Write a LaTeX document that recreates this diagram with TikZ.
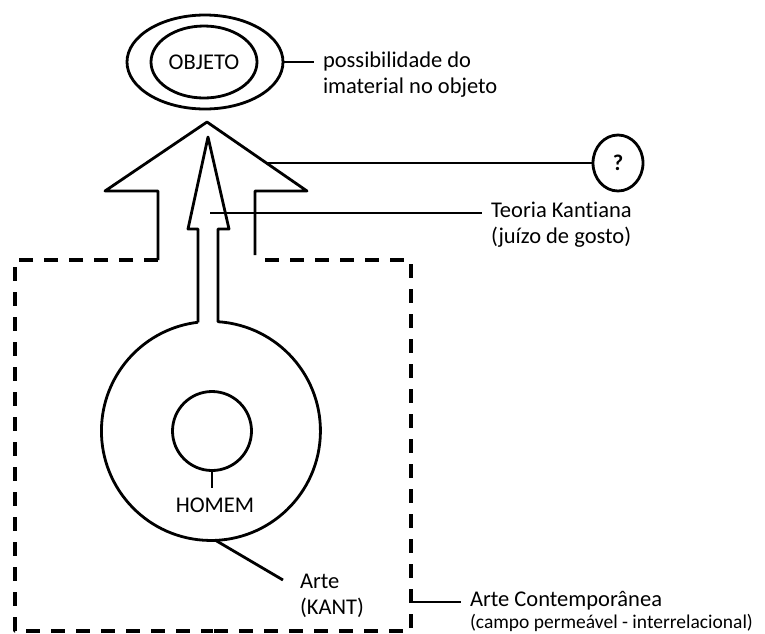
\documentclass[tikz,border=0pt]{standalone}
\usepackage{fontspec}
\setmainfont{Carlito}[Ligatures=NoCommon]
\usetikzlibrary{shapes.geometric}
\newcommand{\txtA}{\fontsize{22.5}{26}\selectfont}
\newcommand{\txtB}{\fontsize{19.5}{23}\selectfont}
\tikzset{
  trace/.style={line width=2.8pt},
  oval/.style={ellipse, draw, line width=2.8pt, inner sep=0pt},
  lbl/.style={font=\txtA, align=left, inner sep=0pt, outer sep=9pt},
  frame/.style={line width=3.6pt, dash pattern=on 14pt off 11pt}
}
\begin{document}
\begin{tikzpicture}[x=1pt, y=-1pt, line join=round]
\useasboundingbox (0,0) rectangle (765,633);
% objeto
\node[oval, minimum width=156, minimum height=94] (objout) at (205,62) {};
\node[oval, minimum width=106, minimum height=72, font=\txtA] (objeto) at (204,62) {OBJETO};
\node[lbl, anchor=west] (possib) at (314,75) {possibilidade do\\imaterial no objeto};
\draw[trace] (objout.east) -- (objout.east -| possib.west);
% ?
\node[oval, minimum width=50, minimum height=56, font=\txtA\bfseries] (ques) at (618,163) {?};
\draw[trace] (158,260) -- (158,191) -- (105,191) -- (207,122) -- (307,191) -- (255,191) -- (255,255);
\coordinate (edge) at (266,163);
\draw[trace] (edge) -- (ques.west);
% campo
\draw[frame] (158,260) -- (15,260) -- (15,631) -- (213,631);
\draw[frame] (265,260) -- (411,260) -- (411,631) -- (213,631);
% arte kant
\coordinate (kant) at (211,431);
\draw[trace] (198,322.3) -- (198,229) -- (188,229) -- (208,137) -- (229,229) -- (218,229) -- (218,321.7) arc[start angle=-86.3, end angle=263.2, radius=109.5];
\node[circle, draw, trace, minimum size=79, inner sep=0pt] (homem) at (212,431) {};
\node[lbl, outer sep=10pt] (homemlbl) at (215,505) {HOMEM};
\draw[trace] (homem.south) -- (homem.south |- homemlbl.north);
\node[lbl, anchor=west] (teoria) at (482,225) {Teoria Kantiana\\(juízo de gosto)};
\coordinate (kt) at (210,213);
\draw[trace] (kt) -- (kt -| teoria.west);
\node[lbl, anchor=west] (arte) at (291,596) {Arte\\(KANT)};
\coordinate (artetop) at (215,540);
\coordinate (arteend) at (283,580);
\draw[trace] (artetop) -- (arteend);
\node[lbl, anchor=west] (artec) at (461,611) {Arte Contemporânea\\[-4pt]{\txtB (campo permeável - interrelacional)}};
\coordinate (boxr) at (411,602);
\draw[trace] (boxr) -- (boxr -| artec.west);
\end{tikzpicture}
\end{document}
